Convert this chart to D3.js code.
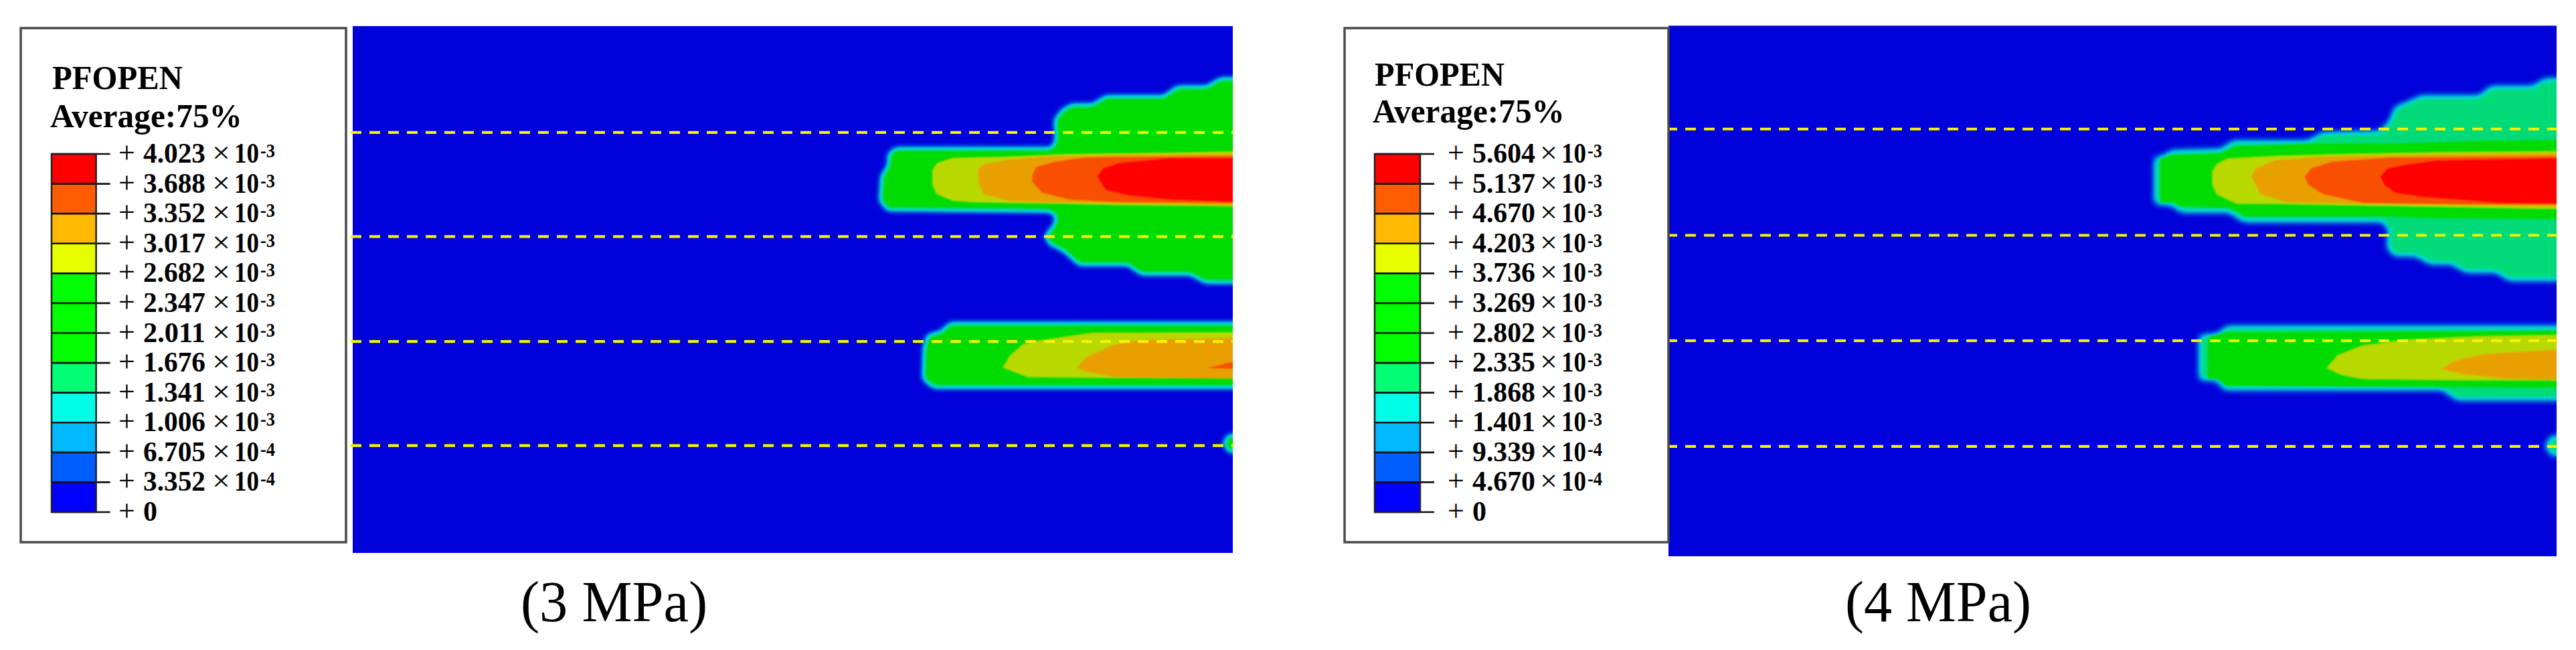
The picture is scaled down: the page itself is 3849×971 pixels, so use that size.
<!DOCTYPE html>
<html><head><meta charset="utf-8">
<script src="https://cdn.jsdelivr.net/npm/d3@7"></script>
<style>html,body{margin:0;padding:0;background:#fff}svg{display:block}text{font-family:"Liberation Serif","Times New Roman",serif;fill:#000}</style>
</head><body><svg id="c" width="3849" height="971"></svg>
<script>
// ---------- legend data ----------
const legendColors = ["#ff0000","#ff5d00","#ffb900","#e8ff00","#00ff00","#00ff00","#00ff00","#00ff75","#00ffe8","#00b9ff","#005dff","#0000ff"];
const mantissa3 = ["4.023","3.688","3.352","3.017","2.682","2.347","2.011","1.676","1.341","1.006","6.705","3.352","0"];
const exponent3 = ["-3","-3","-3","-3","-3","-3","-3","-3","-3","-3","-4","-4",""];
const mantissa4 = ["5.604","5.137","4.670","4.203","3.736","3.269","2.802","2.335","1.868","1.401","9.339","4.670","0"];
const exponent4 = ["-3","-3","-3","-3","-3","-3","-3","-3","-3","-3","-4","-4",""];
const legendTitle = "PFOPEN";
const legendSubtitle = "Average:75%";

// ---------- field contours (model units) ----------
const envelope3 = [
 [[1520,95],[1385,95],[1335,125],[1230,125],[1180,160],[970,160],[925,190],[850,190],[815,210],[790,245],[795,320],[775,350],[215,350],[190,370],[190,410],[165,450],[160,540],[185,570],[770,575],[795,595],[790,625],[755,670],[770,695],[820,720],[875,770],[1050,770],[1100,805],[1275,805],[1330,835],[1520,835]],
 [[1520,990],[410,990],[380,1020],[330,1035],[318,1080],[315,1190],[350,1220],[1520,1220]],
 [[1415,1400],[1398,1425],[1415,1455],[1520,1455],[1520,1400]]
];
const bands3 = [
 ["y",[[345,425],[365,400],[420,382],[600,378],[830,368],[1280,362],[1440,358],[1440,560],[1000,555],[760,550],[500,545],[420,540],[360,515],[345,480]]],
 ["o",[[510,425],[530,405],[620,388],[740,378],[1000,372],[1440,368],[1440,555],[1000,548],[760,545],[620,540],[530,515],[510,470]]],
 ["r",[[705,445],[720,415],[790,395],[900,380],[1440,375],[1440,548],[1000,545],[840,535],[740,510],[705,470]]],
 ["R",[[938,450],[960,420],[1020,400],[1200,382],[1440,382],[1440,545],[1200,535],[1050,520],[970,500]]],
 ["y",[[598,1150],[625,1105],[670,1065],[730,1050],[920,1022],[1440,1020],[1440,1190],[1000,1188],[690,1185]]],
 ["o",[[865,1150],[900,1110],[990,1070],[1090,1048],[1440,1040],[1440,1190],[1000,1185],[900,1165]]],
 ["r",[[1335,1152],[1420,1130],[1440,1128],[1440,1155]]]
];
const envelope4 = [
 [[1600,97],[1465,97],[1425,125],[1285,125],[1245,160],[1050,160],[1000,185],[965,200],[945,255],[910,290],[720,295],[670,325],[420,325],[380,355],[215,360],[185,380],[160,385],[160,545],[215,550],[245,575],[405,575],[455,610],[920,610],[945,640],[940,710],[960,735],[1030,735],[1080,765],[1150,765],[1200,795],[1300,795],[1345,825],[1600,825]],
 [[1600,1003],[400,1003],[370,1030],[310,1037],[310,1190],[365,1190],[390,1225],[1120,1225],[1170,1262],[1600,1262]],
 [[1488,1405],[1470,1435],[1488,1465],[1600,1465],[1600,1405]]
];
const bands4 = [
 ["g",[[175,385],[210,372],[380,365],[425,340],[680,330],[950,330],[1270,318],[1520,316],[1520,606],[1090,602],[920,595],[460,595],[410,565],[245,558],[215,545],[175,545]]],
 ["g",[[335,1040],[395,1020],[1520,1015],[1520,1222],[395,1215],[365,1190],[335,1190]]],
 ["y",[[350,430],[365,405],[400,385],[560,375],[800,368],[1130,362],[1520,358],[1520,568],[1000,558],[600,550],[430,548],[365,515],[350,480]]],
 ["o",[[480,450],[495,420],[560,390],[700,378],[1100,370],[1520,365],[1520,560],[1190,555],[860,550],[600,545],[510,515]]],
 ["r",[[658,450],[680,420],[750,395],[950,380],[1520,375],[1520,553],[1190,552],[860,548],[720,515],[670,480]]],
 ["R",[[912,450],[935,420],[1000,405],[1100,390],[1520,382],[1520,550],[1320,548],[1050,525],[960,510],[925,480]]],
 ["y",[[733,1150],[770,1105],[850,1070],[1000,1048],[1250,1035],[1520,1030],[1520,1195],[1200,1195],[850,1190],[780,1175]]],
 ["o",[[1115,1155],[1160,1125],[1260,1100],[1400,1090],[1520,1082],[1520,1195],[1330,1190],[1200,1175]]]
];
const fractures3 = [289,670,1054,1435];
const fractures4 = [276,665,1051,1438];
const caption3 = "(3 MPa)";
const caption4 = "(4 MPa)";

const bandColor = d3.scaleOrdinal(["g","y","o","r","R"],["#00dc00","#b8d800","#e8a000","#f85000","#ff0000"]);
const svg = d3.select("#c");
const defs = svg.append("defs");

function panel(o){
  const id = o.id;
  const x = d3.scaleLinear().domain(o.xDomain).range([o.left,o.right]);
  const y = d3.scaleLinear().domain(o.yDomain).range([o.top,o.bottom]);
  const line = d3.line().x(d=>x(d[0])).y(d=>y(d[1])).curve(d3.curveLinearClosed);
  defs.append("clipPath").attr("id","clip"+id).append("rect")
    .attr("x",o.left).attr("y",o.top).attr("width",o.right-o.left).attr("height",o.bottom-o.top);
  const f = defs.append("filter").attr("id","halo"+id).attr("filterUnits","userSpaceOnUse")
    .attr("x",o.left).attr("y",o.top).attr("width",o.right-o.left).attr("height",o.bottom-o.top)
    .attr("color-interpolation-filters","sRGB");
  f.append("feGaussianBlur").attr("stdDeviation",o.blur);
  f.append("feColorMatrix").attr("type","matrix").attr("values","0 0 0 1 0  0 0 0 1 0  0 0 0 1 0  0 0 0 0 1");
  const t = f.append("feComponentTransfer");
  t.append("feFuncR").attr("type","table").attr("tableValues","0 0");
  t.append("feFuncG").attr("type","table").attr("tableValues",o.rampG);
  t.append("feFuncB").attr("type","table").attr("tableValues",o.rampB);
  const soft = defs.append("filter").attr("id","soft"+id).attr("filterUnits","userSpaceOnUse")
    .attr("x",o.left-20).attr("y",o.top).attr("width",o.right-o.left+40).attr("height",o.bottom-o.top);
  soft.append("feGaussianBlur").attr("stdDeviation",0.9);

  const g = svg.append("g").attr("clip-path",`url(#clip${id})`);
  g.append("rect").attr("x",o.left).attr("y",o.top).attr("width",o.right-o.left).attr("height",o.bottom-o.top).attr("fill","#0000dc");
  g.append("g").attr("filter",`url(#halo${id})`).selectAll("path").data(o.envelope).join("path").attr("d",line).attr("fill","#fff");
  g.append("g").attr("filter",`url(#soft${id})`).selectAll("path").data(o.bands).join("path")
    .attr("d",d=>line(d[1])).attr("fill",d=>bandColor(d[0]));

  // fracture lines
  svg.append("g").selectAll("line").data(o.fractures).join("line")
    .attr("x1",o.left-3).attr("x2",o.right+1).attr("y1",d=>y(d)).attr("y2",d=>y(d))
    .attr("stroke","#f4f400").attr("stroke-width",4.2).attr("stroke-dasharray",o.dash);

  // legend box
  const L = o.legend;
  svg.append("rect").attr("x",L.x0).attr("y",L.y0).attr("width",L.x1-L.x0).attr("height",L.y1-L.y0)
    .attr("fill","#fff").attr("stroke","#4a4a4a").attr("stroke-width",3.5);
  svg.append("text").text(legendTitle).attr("x",L.tx).attr("y",L.ty1).attr("font-size",50).attr("font-weight",700)
    .attr("textLength",L.tw1).attr("lengthAdjust","spacingAndGlyphs");
  svg.append("text").text(legendSubtitle).attr("x",L.tx2).attr("y",L.ty2).attr("font-size",50).attr("font-weight",700)
    .attr("textLength",L.tw2).attr("lengthAdjust","spacingAndGlyphs");

  const rows = o.mantissa.map((m,i)=>({m,e:o.exponent[i],i}));
  const yb = d3.scalePoint().domain(d3.range(rows.length)).range([L.by0,L.by1]);
  svg.append("g").selectAll("rect").data(legendColors).join("rect")
    .attr("x",L.bx0).attr("width",L.bx1-L.bx0).attr("y",(d,i)=>yb(i)).attr("height",(d,i)=>yb(i+1)-yb(i)).attr("fill",d=>d);
  const rowsG = svg.append("g").selectAll("g").data(rows).join("g").attr("transform",d=>`translate(0,${yb(d.i)})`);
  rowsG.append("line").attr("x1",L.bx0).attr("x2",L.bx1+21).attr("stroke","#111").attr("stroke-width",2.6);
  rowsG.append("text").text("+").attr("x",L.plus).attr("y",13).attr("font-size",44).attr("font-weight",400);
  rowsG.append("text").text(d=>d.m).attr("x",L.num).attr("y",13).attr("font-size",42).attr("font-weight",700)
    .attr("textLength",d=>d.m.length>1?L.numW:null).attr("lengthAdjust","spacingAndGlyphs");
  const sci = rowsG.filter(d=>d.e!=="");
  sci.append("text").text("×").attr("x",L.times).attr("y",13).attr("font-size",44).attr("font-weight",400)
    .attr("textLength",L.timesW).attr("lengthAdjust","spacingAndGlyphs");
  sci.append("text").text("10").attr("x",L.ten).attr("y",13).attr("font-size",42).attr("font-weight",700)
    .attr("textLength",37).attr("lengthAdjust","spacingAndGlyphs");
  sci.append("text").text(d=>d.e).attr("x",L.ten+39).attr("y",5).attr("font-size",30).attr("font-weight",700)
    .attr("textLength",22).attr("lengthAdjust","spacingAndGlyphs");
  svg.append("rect").attr("x",L.bx0).attr("y",L.by0).attr("width",L.bx1-L.bx0).attr("height",L.by1-L.by0)
    .attr("fill","none").attr("stroke","#222").attr("stroke-width",2.5);

  svg.append("text").text(o.caption).attr("x",o.capX).attr("y",928).attr("font-size",87)
    .attr("textLength",o.capW).attr("lengthAdjust","spacingAndGlyphs");
}

panel({id:3,left:527,right:1842,top:39,bottom:826,
  xDomain:[-1744,1428],yDomain:[-100,1828],blur:5,
  rampG:"0 .36 .72 .84 .86 .86 .86",rampB:"0.86 .86 .85 .78 .45 .05 0",
  envelope:envelope3,bands:bands3,fractures:fractures3,dash:"16 12",
  mantissa:mantissa3,exponent:exponent3,caption:caption3,capX:778,capW:279,
  legend:{x0:31,x1:517,y0:42,y1:810,tx:78,ty1:133,tw1:195,tx2:75,ty2:190,tw2:287,
    bx0:77,bx1:143.6,by0:230,by1:765,plus:177,num:214,numW:93,times:317,timesW:27,ten:350}
});
panel({id:4,left:2493,right:3820,top:38.5,bottom:831,
  xDomain:[-1474,1503],yDomain:[-102,1840],blur:5.5,
  rampG:"0 .36 .70 .84 .86 .86",rampB:"0.86 .86 .85 .78 .50 .47",
  envelope:envelope4,bands:bands4,fractures:fractures4,dash:"16 12",
  mantissa:mantissa4,exponent:exponent4,caption:caption4,capX:2757,capW:278,
  legend:{x0:2009,x1:2493,y0:42,y1:810,tx:2054,ty1:128,tw1:194,tx2:2051,ty2:183,tw2:287,
    bx0:2054,bx1:2122,by0:230,by1:765,plus:2163,num:2200,numW:94,times:2301,timesW:26,ten:2333}
});
</script></body></html>
